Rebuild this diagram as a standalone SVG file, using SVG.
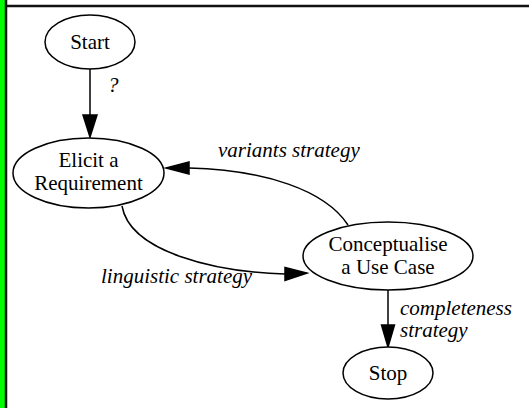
<svg xmlns="http://www.w3.org/2000/svg" width="529" height="408" viewBox="0 0 529 408">
<style>
.node ellipse{fill:#fff;stroke:#000;stroke-width:1.5}
text{font-family:'Liberation Serif','Times New Roman',Tinos,'Nimbus Roman','DejaVu Serif',serif;font-size:21px;fill:#000}
.nl{text-anchor:middle}
.el{font-style:italic}
.edge{fill:none;stroke:#000;stroke-width:1.5}
.ah{fill:#000;stroke:#000;stroke-width:1.5}
</style>
<rect x="0" y="0" width="529" height="408" fill="#fff"/>
<rect x="0" y="0" width="5" height="408" fill="#00ff00"/>
<line x1="6" y1="0" x2="6" y2="408" stroke="#111" stroke-width="2.5"/>
<line x1="5" y1="6" x2="529" y2="6" stroke="#111" stroke-width="2.5"/>
<g id="connectors" font-family="Liberation Serif, serif">
<g id="e1"><path class="edge" d="M90,69 L90,115"/><polygon class="ah" points="83,115 97,115 90,137"/><text class="el" x="108" y="92">?</text></g>
<g id="e2"><path class="edge" d="M348,225 C325,190 265,170 189,168"/><polygon class="ah" points="189,162 189,174 166,168"/><text class="el" x="218" y="157">variants strategy</text></g>
<g id="e3"><path class="edge" d="M122,206 C130,252 215,272 285,274"/><polygon class="ah" points="285,267.5 285,280.5 307,273"/><text class="el" x="101" y="283">linguistic strategy</text></g>
<g id="e4"><path class="edge" d="M388,290 L388,325"/><polygon class="ah" points="381.5,325 394.5,325 388,347"/><text class="el" x="400" y="315">completeness</text><text class="el" x="400" y="337">strategy</text></g>
</g>
<g id="start" class="node"><ellipse cx="90" cy="42" rx="45" ry="27"/><text class="nl" x="90" y="49">Start</text></g>
<g id="elicit" class="node"><ellipse cx="88.5" cy="173" rx="75.5" ry="35"/><text class="nl" x="88.5" y="167">Elicit a</text><text class="nl" x="88.5" y="190">Requirement</text></g>
<g id="conceptualise" class="node"><ellipse cx="388" cy="256" rx="85" ry="34"/><text class="nl" x="388" y="251">Conceptualise</text><text class="nl" x="388" y="274">a Use Case</text></g>
<g id="stop" class="node"><ellipse cx="388" cy="373" rx="45" ry="26"/><text class="nl" x="388" y="380">Stop</text></g>
</svg>
